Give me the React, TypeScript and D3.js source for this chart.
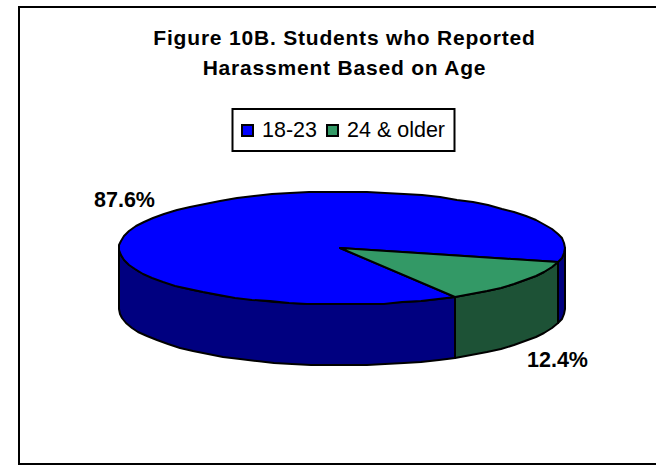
import React from "react";
import * as d3 from "d3";

const titleLines = ["Figure 10B. Students who Reported", "Harassment Based on Age"];
const categories = ["18-23", "24 & older"];
const shares = [87.6, 12.4];
const valueLabels = ["87.6%", "12.4%"];
const topColors = ["#0000ff", "#339966"];
const sideColors = ["#000080", "#1d5236"];

const FONT = "'Liberation Sans', Arial, sans-serif";
const cx = 342;
const cy = 248;
const rx = 223;
const ry = 56.5;
const depth = 61;
const firstSliceStart = (149.5 * Math.PI) / 180;
const rimStep = (5 * Math.PI) / 180;

const pieLayout = d3
  .pie<number>()
  .sort(null)
  .startAngle(firstSliceStart)
  .endAngle(firstSliceStart + 2 * Math.PI);
const slices = pieLayout(shares);

// d3 measures angles clockwise from twelve o'clock; the rim is a flattened ellipse.
const rimX = (a: number) => Math.round(cx + rx * Math.sin(a));
const rimY = (a: number) => Math.round(cy - ry * Math.cos(a));

function sampleAngles(a0: number, a1: number): number[] {
  const n = Math.max(1, Math.ceil((a1 - a0) / rimStep));
  return d3.range(n + 1).map((i) => a0 + ((a1 - a0) * i) / n);
}

const polygon = d3.line<[number, number]>();

function topPath(a0: number, a1: number): string {
  const rim = sampleAngles(a0, a1).map((a) => [rimX(a), rimY(a)] as [number, number]);
  return polygon([[cx - 2, cy], ...rim])! + "Z";
}

// Visible wall: the part of a slice's rim on the near half of the ellipse.
function wallPaths(a0: number, a1: number): string[] {
  const near = [Math.PI / 2, (3 * Math.PI) / 2];
  const out: string[] = [];
  for (const k of [0, 1]) {
    const lo = Math.max(a0, near[0] + k * 2 * Math.PI);
    const hi = Math.min(a1, near[1] + k * 2 * Math.PI);
    if (hi <= lo) continue;
    const rim = sampleAngles(lo, hi).map((a) => [rimX(a), rimY(a)] as [number, number]);
    const lower = rim.map(([x, y]) => [x, y + depth] as [number, number]).reverse();
    out.push(polygon([...rim, ...lower])! + "Z");
  }
  return out;
}

export default function App() {
  return (
    <svg
      width={656}
      height={466}
      style={{ position: "absolute", left: 0, top: 0, background: "#fff" }}
      fontFamily={FONT}
    >
      <path d="M656,7H19V464H656" fill="none" stroke="#000" strokeWidth={2} />

      <text textAnchor="middle" fontWeight="bold" fontSize={21} letterSpacing={0.8} fill="#000">
        <tspan x={344.5} y={45}>{titleLines[0]}</tspan>
        <tspan x={344.5} y={75}>{titleLines[1]}</tspan>
      </text>

      <rect x={232.5} y={109} width={222} height={42} fill="#fff" stroke="#000" strokeWidth={2} />
      {categories.map((c, i) => {
        const sx = [242, 327][i];
        return (
          <g key={c}>
            <rect x={sx} y={125} width={11} height={11} fill={topColors[i]} stroke="#000" strokeWidth={2} />
            <text x={[262, 347][i]} y={137} fontSize={21.5} fill="#000">{c}</text>
          </g>
        );
      })}

      {slices.map((s, i) =>
        wallPaths(s.startAngle, s.endAngle).map((d, j) => (
          <path key={`${i}-${j}`} d={d} fill={sideColors[i]} stroke="#000" strokeWidth={2} strokeLinejoin="round" />
        ))
      )}
      {slices.map((s, i) => (
        <path
          key={i}
          d={topPath(s.startAngle, s.endAngle)}
          fill={topColors[i]}
          stroke="#000"
          strokeWidth={2}
          strokeLinejoin="round"
        />
      ))}

      <text x={94} y={207} fontWeight="bold" fontSize={21.5} fill="#000">{valueLabels[0]}</text>
      <text x={527} y={367} fontWeight="bold" fontSize={21.5} fill="#000">{valueLabels[1]}</text>
    </svg>
  );
}
